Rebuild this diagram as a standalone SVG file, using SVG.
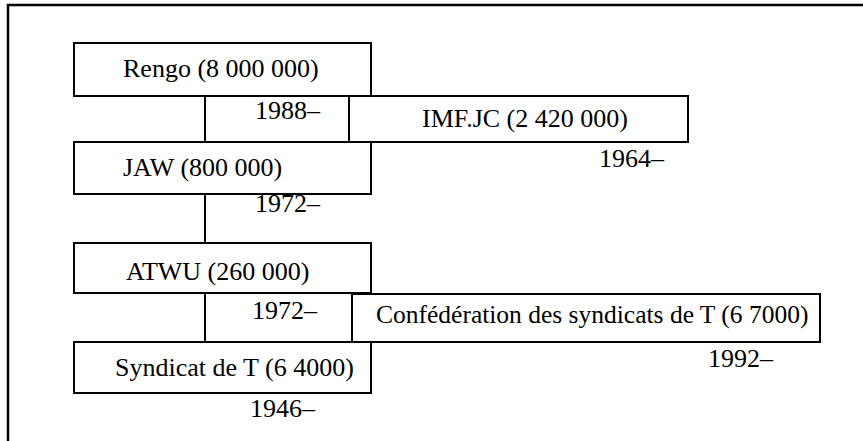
<svg xmlns="http://www.w3.org/2000/svg" width="863" height="441" viewBox="0 0 863 441">
<style>
.box{fill:#fff;stroke:#000;stroke-width:2}
.t{font-family:"Liberation Serif","Times New Roman",serif;font-size:26px;fill:#000}
.c{stroke:#000;stroke-width:2;fill:none}
</style>
<rect x="0" y="0" width="863" height="441" fill="#fff"/>
<path d="M8,441 V5 H863" fill="none" stroke="#000" stroke-width="2.5"/>
<g id="connectors">
<line class="c" x1="205" y1="96" x2="205" y2="142"/>
<line class="c" x1="205" y1="194" x2="205" y2="243"/>
<line class="c" x1="205" y1="293" x2="205" y2="342"/>
</g>
<g id="rengo">
<rect class="box" x="74" y="43" width="297" height="53"/>
<text class="t" x="123" y="77">Rengo (8 000 000)</text>
</g>
<g id="imf">
<rect class="box" x="349" y="96" width="339" height="46"/>
<text class="t" x="422" y="127">IMF.JC (2 420 000)</text>
<text class="t" x="599" y="167">1964–</text>
</g>
<g id="jaw">
<rect class="box" x="74" y="142" width="297" height="52"/>
<text class="t" x="123" y="176">JAW (800 000)</text>
</g>
<g id="atwu">
<rect class="box" x="74" y="243" width="297" height="50"/>
<text class="t" x="126" y="280">ATWU (260 000)</text>
</g>
<g id="confederation">
<rect class="box" x="352" y="294" width="468" height="48"/>
<text class="t" x="376" y="323" style="font-size:25.5px">Confédération des syndicats de T (6 7000)</text>
<text class="t" x="708" y="367">1992–</text>
</g>
<g id="syndicat">
<rect class="box" x="74" y="342" width="297" height="51"/>
<text class="t" x="115" y="376">Syndicat de T (6 4000)</text>
<text class="t" x="250" y="417">1946–</text>
</g>
<g id="labels">
<text class="t" x="255" y="119">1988–</text>
<text class="t" x="255" y="212">1972–</text>
<text class="t" x="252" y="319">1972–</text>
</g>
</svg>
